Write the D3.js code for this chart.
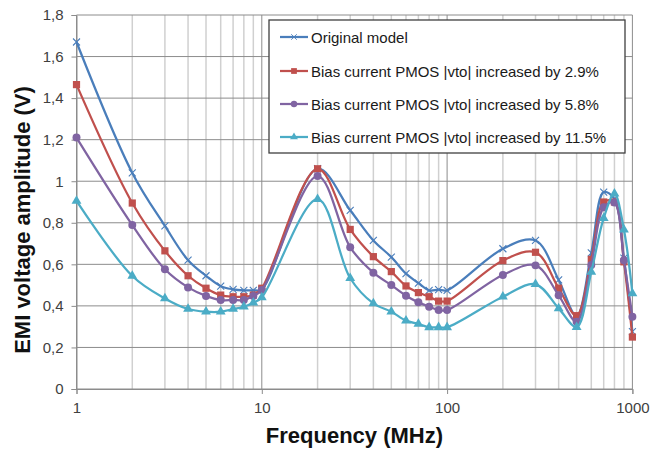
<!DOCTYPE html>
<html>
<head>
<meta charset="utf-8">
<script src="https://cdnjs.cloudflare.com/ajax/libs/d3/7.8.5/d3.min.js"></script>
<style>
  body { margin: 0; background: #fff; }
  svg { display: block; font-family: "Liberation Sans", Arial, sans-serif; }
</style>
</head>
<body>
<div class="chartDiv"></div>
<script>
// frequencies (MHz) and measured amplitudes (V)
const freq = [1, 2, 3, 4, 5, 6, 7, 8, 9, 10, 20, 30, 40, 50, 60, 70, 80, 90, 100,
              200, 300, 400, 500, 600, 700, 800, 900, 1000];
const original = [1.67, 1.04, 0.785, 0.62, 0.545, 0.495, 0.48, 0.475, 0.475, 0.48,
                  1.06, 0.86, 0.715, 0.635, 0.555, 0.51, 0.475, 0.478, 0.475,
                  0.675, 0.715, 0.525, 0.35, 0.655, 0.948, 0.915, 0.63, 0.276];
const bias29 = [1.465, 0.895, 0.665, 0.545, 0.485, 0.452, 0.444, 0.444, 0.452, 0.485,
                1.06, 0.768, 0.637, 0.565, 0.496, 0.464, 0.444, 0.423, 0.423,
                0.618, 0.658, 0.485, 0.353, 0.624, 0.9, 0.9, 0.612, 0.25];
const bias58 = [1.21, 0.789, 0.576, 0.489, 0.448, 0.428, 0.428, 0.428, 0.448, 0.476,
                1.025, 0.682, 0.56, 0.5, 0.449, 0.417, 0.396, 0.38, 0.38,
                0.549, 0.595, 0.451, 0.324, 0.597, 0.875, 0.898, 0.62, 0.348];
const bias115 = [0.905, 0.544, 0.436, 0.385, 0.372, 0.372, 0.385, 0.396, 0.415, 0.441,
                 0.914, 0.533, 0.412, 0.372, 0.329, 0.313, 0.297, 0.297, 0.297,
                 0.444, 0.504, 0.388, 0.298, 0.563, 0.822, 0.94, 0.767, 0.46];

const seriesNames = ['Original model',
                     'Bias current PMOS |vto| increased by 2.9%',
                     'Bias current PMOS |vto| increased by 5.8%',
                     'Bias current PMOS |vto| increased by 11.5%'];
const seriesValues = [original, bias29, bias58, bias115];
const seriesColors = ['#4a7ebb', '#c0504d', '#8064a2', '#4bacc6'];
const seriesMarkers = ['x', 'square', 'circle', 'triangle'];

const yTicks = [0, 0.2, 0.4, 0.6, 0.8, 1, 1.2, 1.4, 1.6, 1.8];
const xMajor = [1, 10, 100, 1000];

const width = 672;
const height = 450;
const plotLeft = 76.5;
const plotRight = 632.4;
const plotTop = 15;
const plotBottom = 389;

var svg = d3.select('.chartDiv')
    .append('svg')
    .attr('width', width)
    .attr('height', height);

const x = d3.scaleLog().domain([1, 1000]).range([plotLeft, plotRight]);
const y = d3.scaleLinear().domain([0, 1.8]).range([plotBottom, plotTop]);

// minor vertical grid (2..9 in each decade)
const minorTicks = [];
[1, 10, 100].forEach(d => {
    for (let k = 2; k <= 9; k++) minorTicks.push(d * k);
});

svg.append('g')
    .selectAll('line')
    .data(minorTicks)
    .enter()
    .append('line')
    .attr('x1', d => x(d))
    .attr('x2', d => x(d))
    .attr('y1', plotTop)
    .attr('y2', plotBottom)
    .style('stroke', '#d0d0d0')
    .style('stroke-width', 1.5);

// major grid
svg.append('g')
    .selectAll('line')
    .data(xMajor)
    .enter()
    .append('line')
    .attr('x1', d => x(d))
    .attr('x2', d => x(d))
    .attr('y1', plotTop)
    .attr('y2', plotBottom)
    .style('stroke', '#8c8c8c')
    .style('stroke-width', 1);

svg.append('g')
    .selectAll('line')
    .data(yTicks)
    .enter()
    .append('line')
    .attr('x1', plotLeft)
    .attr('x2', plotRight)
    .attr('y1', d => y(d))
    .attr('y2', d => y(d))
    .style('stroke', '#8c8c8c')
    .style('stroke-width', 1);

// axes
const yAxis = d3.axisLeft(y)
    .tickValues(yTicks)
    .tickSize(5)
    .tickPadding(8)
    .tickFormat(d => d3.format('.1f')(d).replace('.', ',').replace(',0', ''));

const yAxisG = svg.append('g')
    .attr('transform', `translate(${plotLeft},0)`)
    .call(yAxis);

const xAxis = d3.axisBottom(x)
    .tickValues(xMajor)
    .tickSize(5)
    .tickPadding(8)
    .tickFormat(d3.format('d'));

const xAxisG = svg.append('g')
    .attr('transform', `translate(0,${plotBottom})`)
    .call(xAxis);

[yAxisG, xAxisG].forEach(g => {
    g.select('.domain').style('stroke', '#8c8c8c');
    g.selectAll('.tick line').style('stroke', '#8c8c8c');
    g.selectAll('.tick text')
        .style('font-family', '"Liberation Sans", Arial, sans-serif')
        .style('font-size', '15px')
        .style('fill', '#404040');
});

// axis titles
svg.append('text')
    .attr('x', (plotLeft + plotRight) / 2)
    .attr('y', 443)
    .attr('text-anchor', 'middle')
    .style('font-size', '22px')
    .style('font-weight', 'bold')
    .style('fill', '#111')
    .text('Frequency (MHz)');

svg.append('text')
    .attr('transform', `translate(30,${(plotTop + plotBottom) / 2 + 18}) rotate(-90)`)
    .attr('text-anchor', 'middle')
    .style('font-size', '22px')
    .style('font-weight', 'bold')
    .style('fill', '#111')
    .text('EMI voltage amplitude (V)');

// marker drawing
function markerPath(type) {
    if (type === 'square') return d3.symbol().type(d3.symbolSquare).size(52)();
    if (type === 'circle') return d3.symbol().type(d3.symbolCircle).size(50)();
    if (type === 'triangle') return d3.symbol().type(d3.symbolTriangle).size(42)();
    return 'M-3.5,-3.5L3.5,3.5M-3.5,3.5L3.5,-3.5';
}

function drawMarker(g, type, color) {
    const p = g.append('path').attr('d', markerPath(type));
    if (type === 'x') {
        p.style('fill', 'none').style('stroke', color).style('stroke-width', 1.1);
    } else {
        p.style('fill', color).style('stroke', 'none');
    }
    return p;
}

const line = d3.line()
    .x(d => x(d[0]))
    .y(d => y(d[1]))
    .curve(d3.curveCatmullRom.alpha(0.5));

seriesValues.forEach((vals, i) => {
    const pts = freq.map((f, j) => [f, vals[j]]);
    const g = svg.append('g').attr('class', 'series');

    g.append('path')
        .datum(pts)
        .attr('d', line)
        .style('fill', 'none')
        .style('stroke', seriesColors[i])
        .style('stroke-width', 2.25);

    pts.forEach(p => {
        const mg = g.append('g')
            .attr('transform', `translate(${x(p[0])},${y(p[1])})`);
        drawMarker(mg, seriesMarkers[i], seriesColors[i]);
    });
});

// legend
const legend = svg.append('g').attr('class', 'legend');

legend.append('rect')
    .attr('x', 269)
    .attr('y', 20)
    .attr('width', 356)
    .attr('height', 133)
    .style('fill', '#fff')
    .style('stroke', '#404040')
    .style('stroke-width', 1.3);

const legendRowY = [37, 71, 104, 137];

seriesNames.forEach((name, i) => {
    const row = legend.append('g')
        .attr('transform', `translate(0,${legendRowY[i]})`);

    row.append('line')
        .attr('x1', 280)
        .attr('x2', 308)
        .style('stroke', seriesColors[i])
        .style('stroke-width', 2.25);

    const mg = row.append('g').attr('transform', 'translate(294,0)');
    drawMarker(mg, seriesMarkers[i], seriesColors[i]).attr('transform', 'scale(0.8)');

    row.append('text')
        .attr('x', 311)
        .attr('y', 5.5)
        .style('font-size', '15px')
        .style('fill', '#1a1a1a')
        .text(name);
});
</script>
</body>
</html>
